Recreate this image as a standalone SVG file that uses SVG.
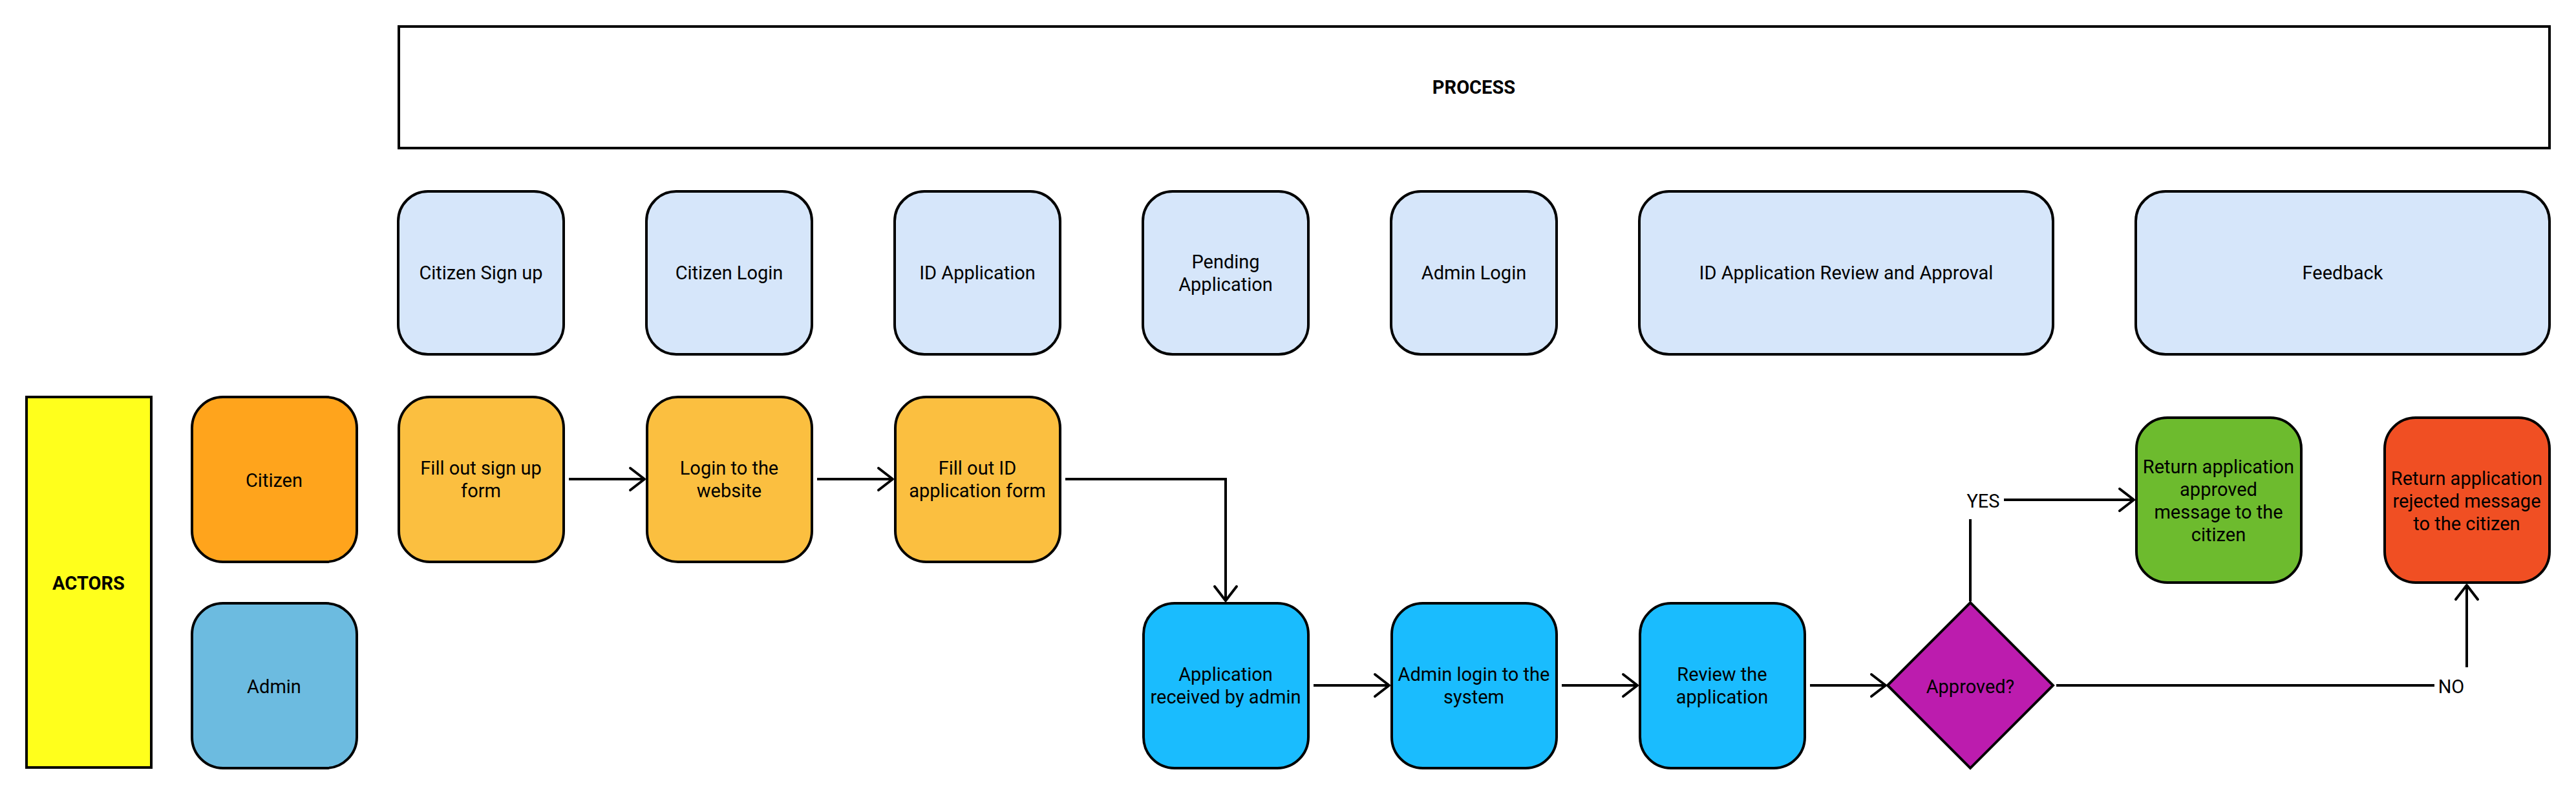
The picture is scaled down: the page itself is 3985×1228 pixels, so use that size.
<svg xmlns="http://www.w3.org/2000/svg" width="3985" height="1228" viewBox="0 0 3985 1228">
<defs>
<style>
.n{stroke:#000;stroke-width:4}
.t{font-family:Roboto,"Liberation Sans",sans-serif;font-size:29px;fill:#000;text-anchor:middle;dominant-baseline:central}
.b{font-weight:bold}
.hdr{fill:#D6E6FA}
.c{fill:none;stroke:#000;stroke-width:4}
</style>
<marker id="arr" viewBox="-28 -22 32 44" refX="0" refY="0" markerWidth="32" markerHeight="44" markerUnits="userSpaceOnUse" orient="auto">
<path d="M-22,-17 L0,0 L-22,17" fill="none" stroke="#000" stroke-width="4" stroke-linecap="round" stroke-linejoin="round"/>
</marker>
</defs>
<rect width="3985" height="1228" fill="#fff"/>

<g id="process"><rect class="n" x="617" y="41" width="3327" height="188" fill="#fff"/><text class="t b" x="2280" y="135">PROCESS</text></g>

<g id="h-signup"><rect class="n hdr" x="616" y="296" width="256" height="252" rx="46"/><text class="t" x="744" y="422">Citizen Sign up</text></g>
<g id="h-login"><rect class="n hdr" x="1000" y="296" width="256" height="252" rx="46"/><text class="t" x="1128" y="422">Citizen Login</text></g>
<g id="h-idapp"><rect class="n hdr" x="1384" y="296" width="256" height="252" rx="46"/><text class="t" x="1512" y="422">ID Application</text></g>
<g id="h-pending"><rect class="n hdr" x="1768" y="296" width="256" height="252" rx="46"/><text class="t" x="1896"><tspan x="1896" y="405">Pending</tspan><tspan x="1896" y="440">Application</tspan></text></g>
<g id="h-admin"><rect class="n hdr" x="2152" y="296" width="256" height="252" rx="46"/><text class="t" x="2280" y="422">Admin Login</text></g>
<g id="h-review"><rect class="n hdr" x="2536" y="296" width="640" height="252" rx="46"/><text class="t" x="2856" y="422">ID Application Review and Approval</text></g>
<g id="h-feedback"><rect class="n hdr" x="3304" y="296" width="640" height="252" rx="46"/><text class="t" x="3624" y="422">Feedback</text></g>

<g id="actors"><rect class="n" x="41" y="614" width="193" height="573" fill="#FFFF1C"/><text class="t b" x="137" y="902">ACTORS</text></g>
<g id="citizen"><rect class="n" x="297" y="614" width="255" height="255" rx="48" fill="#FFA41C"/><text class="t" x="424" y="743">Citizen</text></g>
<g id="admin"><rect class="n" x="297" y="933" width="255" height="255" rx="48" fill="#6CBBE0"/><text class="t" x="424" y="1062">Admin</text></g>

<g id="signup-form"><rect class="n" x="617" y="614" width="255" height="255" rx="48" fill="#FBBF40"/><text class="t"><tspan x="744" y="724">Fill out sign up</tspan><tspan x="744" y="759">form</tspan></text></g>
<g id="login-web"><rect class="n" x="1001" y="614" width="255" height="255" rx="48" fill="#FBBF40"/><text class="t"><tspan x="1128" y="724">Login to the</tspan><tspan x="1128" y="759">website</tspan></text></g>
<g id="id-form"><rect class="n" x="1385" y="614" width="255" height="255" rx="48" fill="#FBBF40"/><text class="t"><tspan x="1512" y="724">Fill out ID</tspan><tspan x="1512" y="759">application form</tspan></text></g>

<g id="received"><rect class="n" x="1769" y="933" width="255" height="255" rx="48" fill="#1ABCFE"/><text class="t"><tspan x="1896" y="1043">Application</tspan><tspan x="1896" y="1078">received by admin</tspan></text></g>
<g id="admin-login"><rect class="n" x="2153" y="933" width="255" height="255" rx="48" fill="#1ABCFE"/><text class="t"><tspan x="2280" y="1043">Admin login to the</tspan><tspan x="2280" y="1078">system</tspan></text></g>
<g id="review"><rect class="n" x="2537" y="933" width="255" height="255" rx="48" fill="#1ABCFE"/><text class="t"><tspan x="2664" y="1043">Review the</tspan><tspan x="2664" y="1078">application</tspan></text></g>

<g id="approved"><polygon class="n" points="3048,932 3176,1060 3048,1188 2920,1060" fill="#BC1CAE"/><text class="t" x="3048" y="1062">Approved?</text></g>

<g id="approved-msg"><rect class="n" x="3305" y="646" width="255" height="255" rx="48" fill="#6DBB2E"/><text class="t"><tspan x="3432" y="722">Return application</tspan><tspan x="3432" y="757">approved</tspan><tspan x="3432" y="792">message to the</tspan><tspan x="3432" y="827">citizen</tspan></text></g>
<g id="rejected-msg"><rect class="n" x="3689" y="646" width="255" height="255" rx="48" fill="#F04F23"/><text class="t"><tspan x="3816" y="740">Return application</tspan><tspan x="3816" y="775">rejected message</tspan><tspan x="3816" y="810">to the citizen</tspan></text></g>

<g id="connectors">
<path class="c" d="M880,741 H997" marker-end="url(#arr)"/>
<path class="c" d="M1264,741 H1381" marker-end="url(#arr)"/>
<path class="c" d="M1648,741 H1896 V929" marker-end="url(#arr)"/>
<path class="c" d="M2032,1060 H2149" marker-end="url(#arr)"/>
<path class="c" d="M2416,1060 H2533" marker-end="url(#arr)"/>
<path class="c" d="M2800,1060 H2917" marker-end="url(#arr)"/>
<path class="c" d="M3048,930 V773 H3301" marker-end="url(#arr)"/>
<path class="c" d="M3181,1060 H3816 V905" marker-end="url(#arr)"/>
<rect x="3036" y="745" width="64" height="58" fill="#fff"/>
<text class="t" x="3068" y="775">YES</text>
<rect x="3766" y="1032" width="52" height="58" fill="#fff"/>
<text class="t" x="3792" y="1062">NO</text>
</g>
</svg>
